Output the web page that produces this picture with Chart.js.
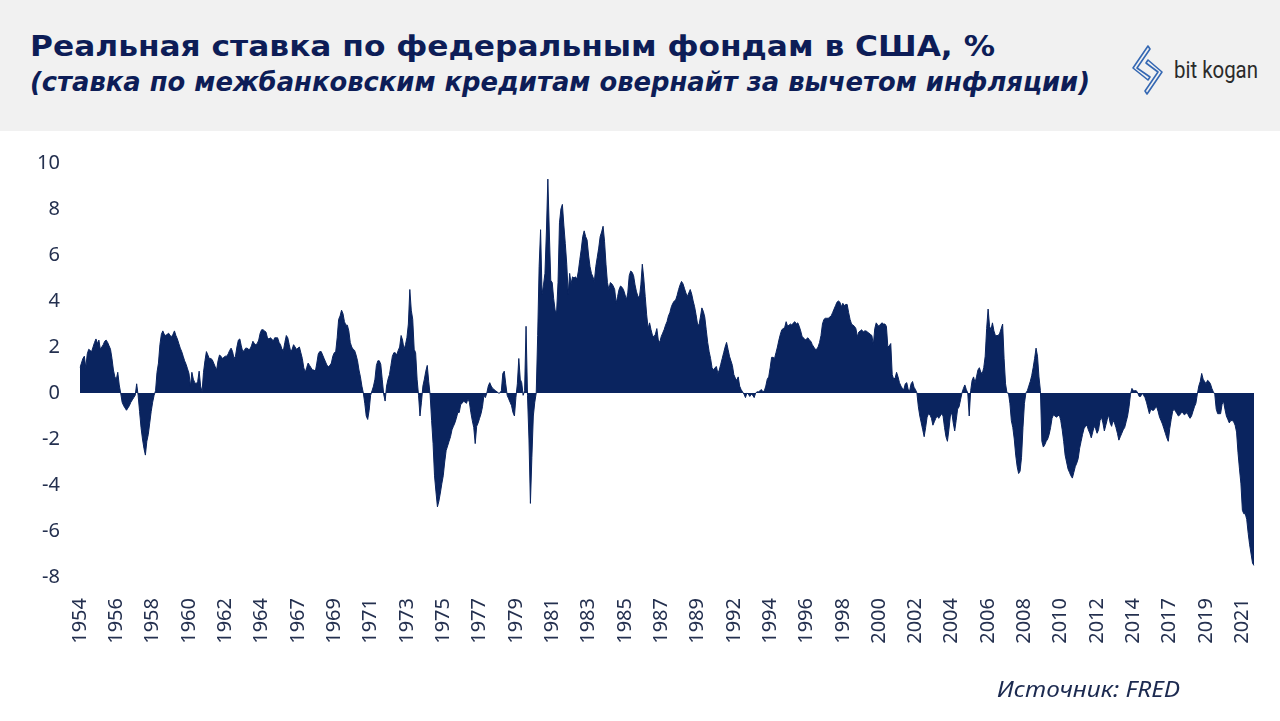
<!DOCTYPE html>
<html lang="ru">
<head>
<meta charset="utf-8">
<title>Реальная ставка по федеральным фондам в США</title>
<script src="https://cdn.jsdelivr.net/npm/chart.js@4.4.1/dist/chart.umd.min.js"></script>
<style>
  html, body { margin: 0; padding: 0; background: #fff; }
  body { width: 1280px; height: 721px; position: relative; overflow: hidden; font-family: "DejaVu Sans", "Noto Sans", sans-serif; }
  .header { position: absolute; left: 0; top: 0; width: 1280px; height: 131px; background: #f1f1f1; }
  .title, .subtitle { position: absolute; left: 30px; white-space: nowrap; line-height: 1; color: #0d1d57; font-weight: bold; transform-origin: left center; }
  .title { top: 33px; font-size: 28px; }
  .subtitle { top: 69px; font-size: 26px; font-style: italic; }
  .logo-icon { position: absolute; left: 1126px; top: 42px; }
  .logo-text { position: absolute; left: 1174px; top: 58px; font-family: Roboto, sans-serif; font-size: 24px; color: #2b2b2b; white-space: nowrap; line-height: 1; transform-origin: left center; }
  .source { position: absolute; left: 997px; top: 679px; font-family: "Noto Sans", sans-serif; font-size: 21px; font-style: italic; color: #1c2a50; white-space: nowrap; line-height: 1; transform-origin: left center; }
  .chart-box { position: absolute; left: 0; top: 140px; }
</style>
</head>
<body>
<div class="header">
  <div class="title" id="title">Реальная ставка по федеральным фондам в США, %</div>
  <div class="subtitle" id="subtitle">(ставка по межбанковским кредитам овернайт за вычетом инфляции)</div>
  <svg class="logo-icon" width="42" height="56" viewBox="1126 42 42 56">
    <path d="M1148 46 L1133 68 L1148 80 L1150 77 L1137 68 L1150 49 Z" fill="none" stroke="#3568b3" stroke-width="1.6" stroke-linejoin="round"/>
    <path d="M1148 60 L1162 72 L1147 94 L1145 91 L1158 72 L1146 63 Z" fill="none" stroke="#3568b3" stroke-width="1.6" stroke-linejoin="round"/>
  </svg>
  <div class="logo-text" id="logoText">bit kogan</div>
</div>
<div class="chart-box"><canvas id="rateChart" width="1280" height="560"></canvas></div>
<div class="source" id="source">Источник: FRED</div>

<script>
(function () {
  "use strict";

  // первая точка ряда — июль 1954, дальше помесячно
  var startYear = 1954;
  var startMonth = 7;

  // подписи оси X стоят на каждой 25-й точке
  var tickStep = 25;
  var tickYears = ["1954", "1956", "1958", "1960", "1962", "1964", "1967", "1969", "1971",
    "1973", "1975", "1977", "1979", "1981", "1983", "1985", "1987", "1989", "1992", "1994",
    "1996", "1998", "2000", "2002", "2004", "2006", "2008", "2010", "2012", "2014", "2017",
    "2019", "2021"];

  var yTicks = { min: -8, max: 10, step: 2 };

  // реальная ставка, %, по месяцам
  var rate1950s = [
    1.1, 1.3, 1.5, 1.6, 1.1, 1.7,
    1.9, 1.85, 1.8, 2.0, 2.2, 2.35, 2.15, 2.3, 1.9, 2.0, 2.1, 2.25,
    2.3, 2.2, 2.05, 1.9, 1.5, 1.0, 0.7, 0.6, 0.9, 0.35, 0.0, -0.4,
    -0.55, -0.65, -0.75, -0.65, -0.55, -0.4, -0.3, -0.2, -0.1, 0.4, -0.1, -0.8,
    -1.5, -2.0, -2.4, -2.7, -2.1, -1.8, -1.3, -0.8, -0.4, -0.1, 0.1, 0.9,
    1.3, 2.1, 2.55, 2.7, 2.55, 2.5, 2.55, 2.6, 2.5, 2.45, 2.55, 2.7
  ];
  var rate1960s = [
    2.5, 2.35, 2.15, 1.95, 1.8, 1.6, 1.4, 1.25, 1.05, 0.85, 0.3, 0.9,
    0.6, 0.45, 0.4, 0.5, 0.95, 0.3, 0.05, 0.9, 1.4, 1.8, 1.65, 1.5,
    1.5, 1.45, 1.3, 1.15, 1.0, 1.4, 1.65, 1.6, 1.5, 1.55, 1.6, 1.6,
    1.7, 1.85, 1.95, 1.8, 1.5, 1.6, 2.0, 2.3, 2.35, 2.05, 1.8, 1.85,
    1.95, 1.95, 1.9, 1.9, 2.05, 2.25, 2.15, 2.1, 2.15, 2.3, 2.6, 2.75,
    2.75, 2.7, 2.65, 2.4, 2.35, 2.4, 2.35, 2.25, 2.4, 2.4, 2.4, 2.2,
    2.1, 1.9, 1.85, 2.2, 2.5, 2.4, 2.1, 1.8, 1.9, 2.1, 2.0, 1.9,
    1.95, 2.0, 1.75, 1.5, 1.1, 0.9, 1.1, 1.3, 1.2, 1.1, 1.0, 1.0,
    0.95, 1.3, 1.7, 1.8, 1.8, 1.65, 1.5, 1.35, 1.2, 1.15, 1.2, 1.3,
    1.6, 1.75, 1.8, 2.4, 3.2, 3.35, 3.6, 3.45, 3.1, 2.95, 2.95, 2.7
  ];
  var rate1970s = [
    2.2, 2.0, 1.9, 1.85, 1.65, 1.4, 1.0, 0.7, 0.3, 0.0, -0.45, -1.0,
    -1.15, -0.75, -0.1, 0.1, 0.3, 0.6, 1.2, 1.4, 1.4, 1.25, 0.6, -0.05,
    -0.35, 0.3, 0.6, 0.8, 1.2, 1.6, 1.75, 1.75, 1.65, 1.85, 2.0, 2.5,
    2.3, 1.9, 2.1, 2.4, 3.0, 4.5, 3.6, 3.2, 1.9, 1.75, 0.6, -0.1,
    -1.0, -0.4, 0.3, 0.6, 0.95, 1.2, 0.5, -0.1, -1.2, -2.2, -3.6, -4.3,
    -4.95, -4.7, -4.35, -3.95, -3.6, -3.0, -2.5, -2.3, -2.1, -1.9, -1.6, -1.45,
    -1.3, -1.1, -0.85, -0.85, -0.5, -0.45, -0.35, -0.4, -0.45, -0.25, -0.4, -0.85,
    -1.2, -1.5, -2.2, -1.45, -1.3, -1.1, -0.9, -0.6, -0.1, -0.2, 0.0, 0.3,
    0.45, 0.3, 0.2, 0.15, 0.1, 0.05, 0.0, 0.0, 0.1, 0.85, 0.95, 0.4,
    -0.1, -0.25, -0.4, -0.55, -0.85, -1.0, -0.2, 0.4, 1.5, 0.6, 0.45, -0.1
  ];
  var rate1980s = [
    0.1, 2.9, -0.1, -2.0, -4.8, -2.8, -1.0, -0.4, 0.0, 2.5, 5.5, 7.1,
    4.3, 4.7, 5.2, 7.0, 9.3, 7.0, 4.9, 4.8, 4.1, 3.6, 3.5, 4.8,
    7.4, 8.0, 8.2, 7.3, 6.5, 5.6, 4.3, 5.2, 4.75, 5.05, 5.0, 5.05,
    4.95, 5.3, 5.8, 6.25, 6.8, 7.05, 6.8, 6.65, 6.0, 5.5, 5.2, 5.05,
    4.85, 5.5, 5.9, 6.3, 6.8, 7.0, 7.25, 6.6, 5.6, 4.8, 4.5, 4.8,
    4.75, 4.65, 4.5, 3.9, 4.2, 4.5, 4.65, 4.6, 4.5, 4.3, 4.05, 4.35,
    5.1, 5.3, 5.25, 5.1, 4.7, 4.4, 4.2, 4.15, 4.7, 5.6, 5.0, 4.2,
    3.4, 2.8, 3.05, 2.75, 2.5, 2.45, 2.55, 2.8, 2.3, 2.2, 2.45, 2.6,
    2.75, 2.95, 3.1, 3.35, 3.5, 3.75, 3.9, 4.0, 4.05, 4.25, 4.5, 4.7,
    4.85, 4.75, 4.55, 4.35, 4.2, 4.35, 4.5, 4.3, 4.0, 3.75, 3.4, 3.0
  ];
  var rate1990s = [
    2.95, 3.3, 3.7, 3.55, 3.3, 2.75, 2.2, 1.8, 1.5, 1.1, 1.0, 1.1,
    1.15, 0.85, 1.0, 1.25, 1.5, 1.75, 2.0, 2.2, 1.9, 1.6, 1.4, 1.2,
    0.8, 0.65, 0.55, 0.7, 0.3, 0.15, 0.05, -0.05, -0.2, 0.0, -0.05, -0.15,
    -0.05, -0.1, -0.2, 0.0, 0.05, 0.05, 0.1, 0.15, 0.05, 0.1, 0.3, 0.6,
    0.7, 1.1, 1.55, 1.55, 1.5, 1.75, 2.0, 2.3, 2.55, 2.75, 2.8, 2.85,
    3.1, 2.9, 2.95, 3.0, 2.95, 3.05, 3.1, 3.0, 3.05, 2.9, 2.7, 2.45,
    2.4, 2.3, 2.35, 2.4, 2.3, 2.25, 2.1, 2.0, 1.9, 1.9, 2.0, 2.2,
    2.5, 3.0, 3.2, 3.25, 3.25, 3.25, 3.3, 3.35, 3.5, 3.65, 3.8, 3.95,
    4.0, 3.95, 3.75, 3.9, 3.8, 3.85, 3.85, 3.5, 3.2, 3.0, 2.95, 2.9,
    2.8, 2.45, 2.65, 2.7, 2.75, 2.65, 2.7, 2.7, 2.65, 2.6, 2.55, 2.5
  ];
  var rate2000s = [
    2.1, 2.8, 3.05, 2.95, 2.9, 3.0, 3.05, 3.0, 3.0, 2.9, 2.0, 2.05,
    2.15, 0.8, 0.6, 0.65, 0.9, 0.7, 0.45, 0.3, 0.2, 0.15, 0.4, 0.45,
    0.15, 0.1, 0.4, 0.5, 0.25, 0.15, 0.0, -0.6, -1.0, -1.3, -1.6, -1.9,
    -1.5, -1.05, -0.9, -0.95, -1.1, -1.4, -1.25, -1.1, -1.0, -1.1, -1.0, -0.9,
    -1.0, -1.5, -1.9, -2.1, -1.6, -1.0, -0.85, -1.3, -1.65, -1.2, -0.7, -0.6,
    -0.3, 0.0, 0.2, 0.35, 0.15, 0.0, -1.0, 0.1, 0.55, 0.7, 0.45, 0.7,
    1.0, 1.1, 0.9, 0.85, 1.1, 1.6, 2.8, 3.65, 2.9, 2.75, 3.05, 2.7,
    2.5, 2.5, 2.5, 2.6, 2.8, 3.0, 1.5, 0.4, 0.0, 0.0, -0.45, -1.2,
    -1.5, -2.0, -2.7, -3.2, -3.5, -3.4, -2.8, -1.5, -0.45, 0.0, 0.1, 0.3,
    0.5, 0.75, 1.1, 1.5, 1.95, 1.6, 0.7, 0.1, -2.1, -2.35, -2.25, -2.1
  ];
  var rate2010s = [
    -2.0, -1.8, -1.5, -1.1, -0.95, -1.0, -1.05, -1.0, -0.95, -1.2, -1.6, -2.1,
    -2.7, -3.0, -3.3, -3.45, -3.6, -3.7, -3.45, -3.2, -3.05, -2.85, -2.4, -2.1,
    -1.8, -1.55, -1.45, -1.4, -1.6, -1.75, -1.95, -1.7, -1.45, -1.55, -1.75, -1.6,
    -1.2, -1.05, -1.3, -1.65, -1.4, -1.15, -0.95, -1.3, -1.45, -1.2, -1.3, -1.5,
    -1.75, -2.05, -1.9, -1.75, -1.6, -1.5, -1.25, -1.0, -0.6, -0.05, 0.2, 0.1,
    0.1, 0.1, 0.0, -0.15, -0.15, 0.0, -0.1, -0.2, -0.4, -0.65, -0.9, -0.7,
    -0.75, -0.75, -0.65, -0.6, -0.8, -1.05, -1.2, -1.35, -1.55, -1.75, -1.95, -2.1,
    -1.55, -1.15, -0.8, -0.7, -0.8, -0.9, -1.0, -0.95, -0.85, -0.85, -0.95, -0.9,
    -0.85, -1.0, -1.1, -1.0, -0.8, -0.6, -0.45, -0.05, 0.3, 0.5, 0.85, 0.6,
    0.5, 0.4, 0.55, 0.5, 0.4, 0.2, 0.05, -0.05, -0.7, -0.9, -0.9, -0.9
  ];
  var rate2020s = [
    -0.5, -0.35, -0.7, -1.0, -1.15, -1.3, -1.2, -1.2, -1.25, -1.4, -1.7, -2.6,
    -3.3, -3.95, -5.1, -5.25, -5.25, -5.5, -6.1, -6.6, -7.0, -7.4, -7.5
  ];

  var navy = "#0a245f";
  var axisText = "#24304f";

  var values = [].concat(rate1950s, rate1960s, rate1970s, rate1980s,
    rate1990s, rate2000s, rate2010s, rate2020s);

  var labels = values.map(function (v, i) {
    var m = startMonth - 1 + i;
    var mm = (m % 12) + 1;
    return (startYear + Math.floor(m / 12)) + "-" + (mm < 10 ? "0" + mm : mm);
  });

  // растягиваем строку по ширине, как в оригинале
  function fitWidth(id, target) {
    var el = document.getElementById(id);
    var w = el.getBoundingClientRect().width;
    el.style.transform = "scaleX(" + (target / w).toFixed(4) + ")";
  }
  fitWidth("title", 965);
  fitWidth("subtitle", 1060);
  fitWidth("source", 183);
  fitWidth("logoText", 84);

  var tickFont = { family: "'Noto Sans', sans-serif", size: 20 };

  new Chart(document.getElementById("rateChart"), {
    type: "line",
    data: {
      labels: labels,
      datasets: [
        {
          data: values,
          borderColor: navy,
          backgroundColor: navy,
          borderWidth: 1,
          pointRadius: 0,
          tension: 0,
          fill: "origin",
        },
      ],
    },
    options: {
      responsive: false,
      animation: false,
      layout: {
        autoPadding: false,
        padding: { left: 20, right: 26, top: 23, bottom: 53 },
      },
      plugins: {
        legend: { display: false },
        tooltip: { enabled: false },
      },
      scales: {
        x: {
          grid: { display: false, drawTicks: false },
          border: { display: false },
          ticks: {
            autoSkip: false,
            minRotation: 90,
            maxRotation: 90,
            padding: 21,
            color: axisText,
            font: tickFont,
            callback: function (value) {
              return tickYears[value / tickStep];
            },
          },
          afterBuildTicks: function (axis) {
            axis.ticks = axis.ticks.filter(function (t) {
              return t.value % tickStep === 0 && t.value / tickStep < tickYears.length;
            });
          },
          // размеры оси задаём сами, без запаса под подписи
          afterFit: function (axis) {
            axis.height = 70;
            axis.paddingLeft = 0;
            axis.paddingRight = 0;
          },
        },
        y: {
          min: yTicks.min,
          max: yTicks.max,
          grid: { display: false, drawTicks: false },
          border: { display: false },
          ticks: {
            stepSize: yTicks.step,
            padding: 20,
            color: axisText,
            font: tickFont,
          },
          afterFit: function (axis) {
            axis.width = 60;
            axis.paddingTop = 0;
            axis.paddingBottom = 0;
          },
        },
      },
    },
  });
})();
</script>
</body>
</html>
